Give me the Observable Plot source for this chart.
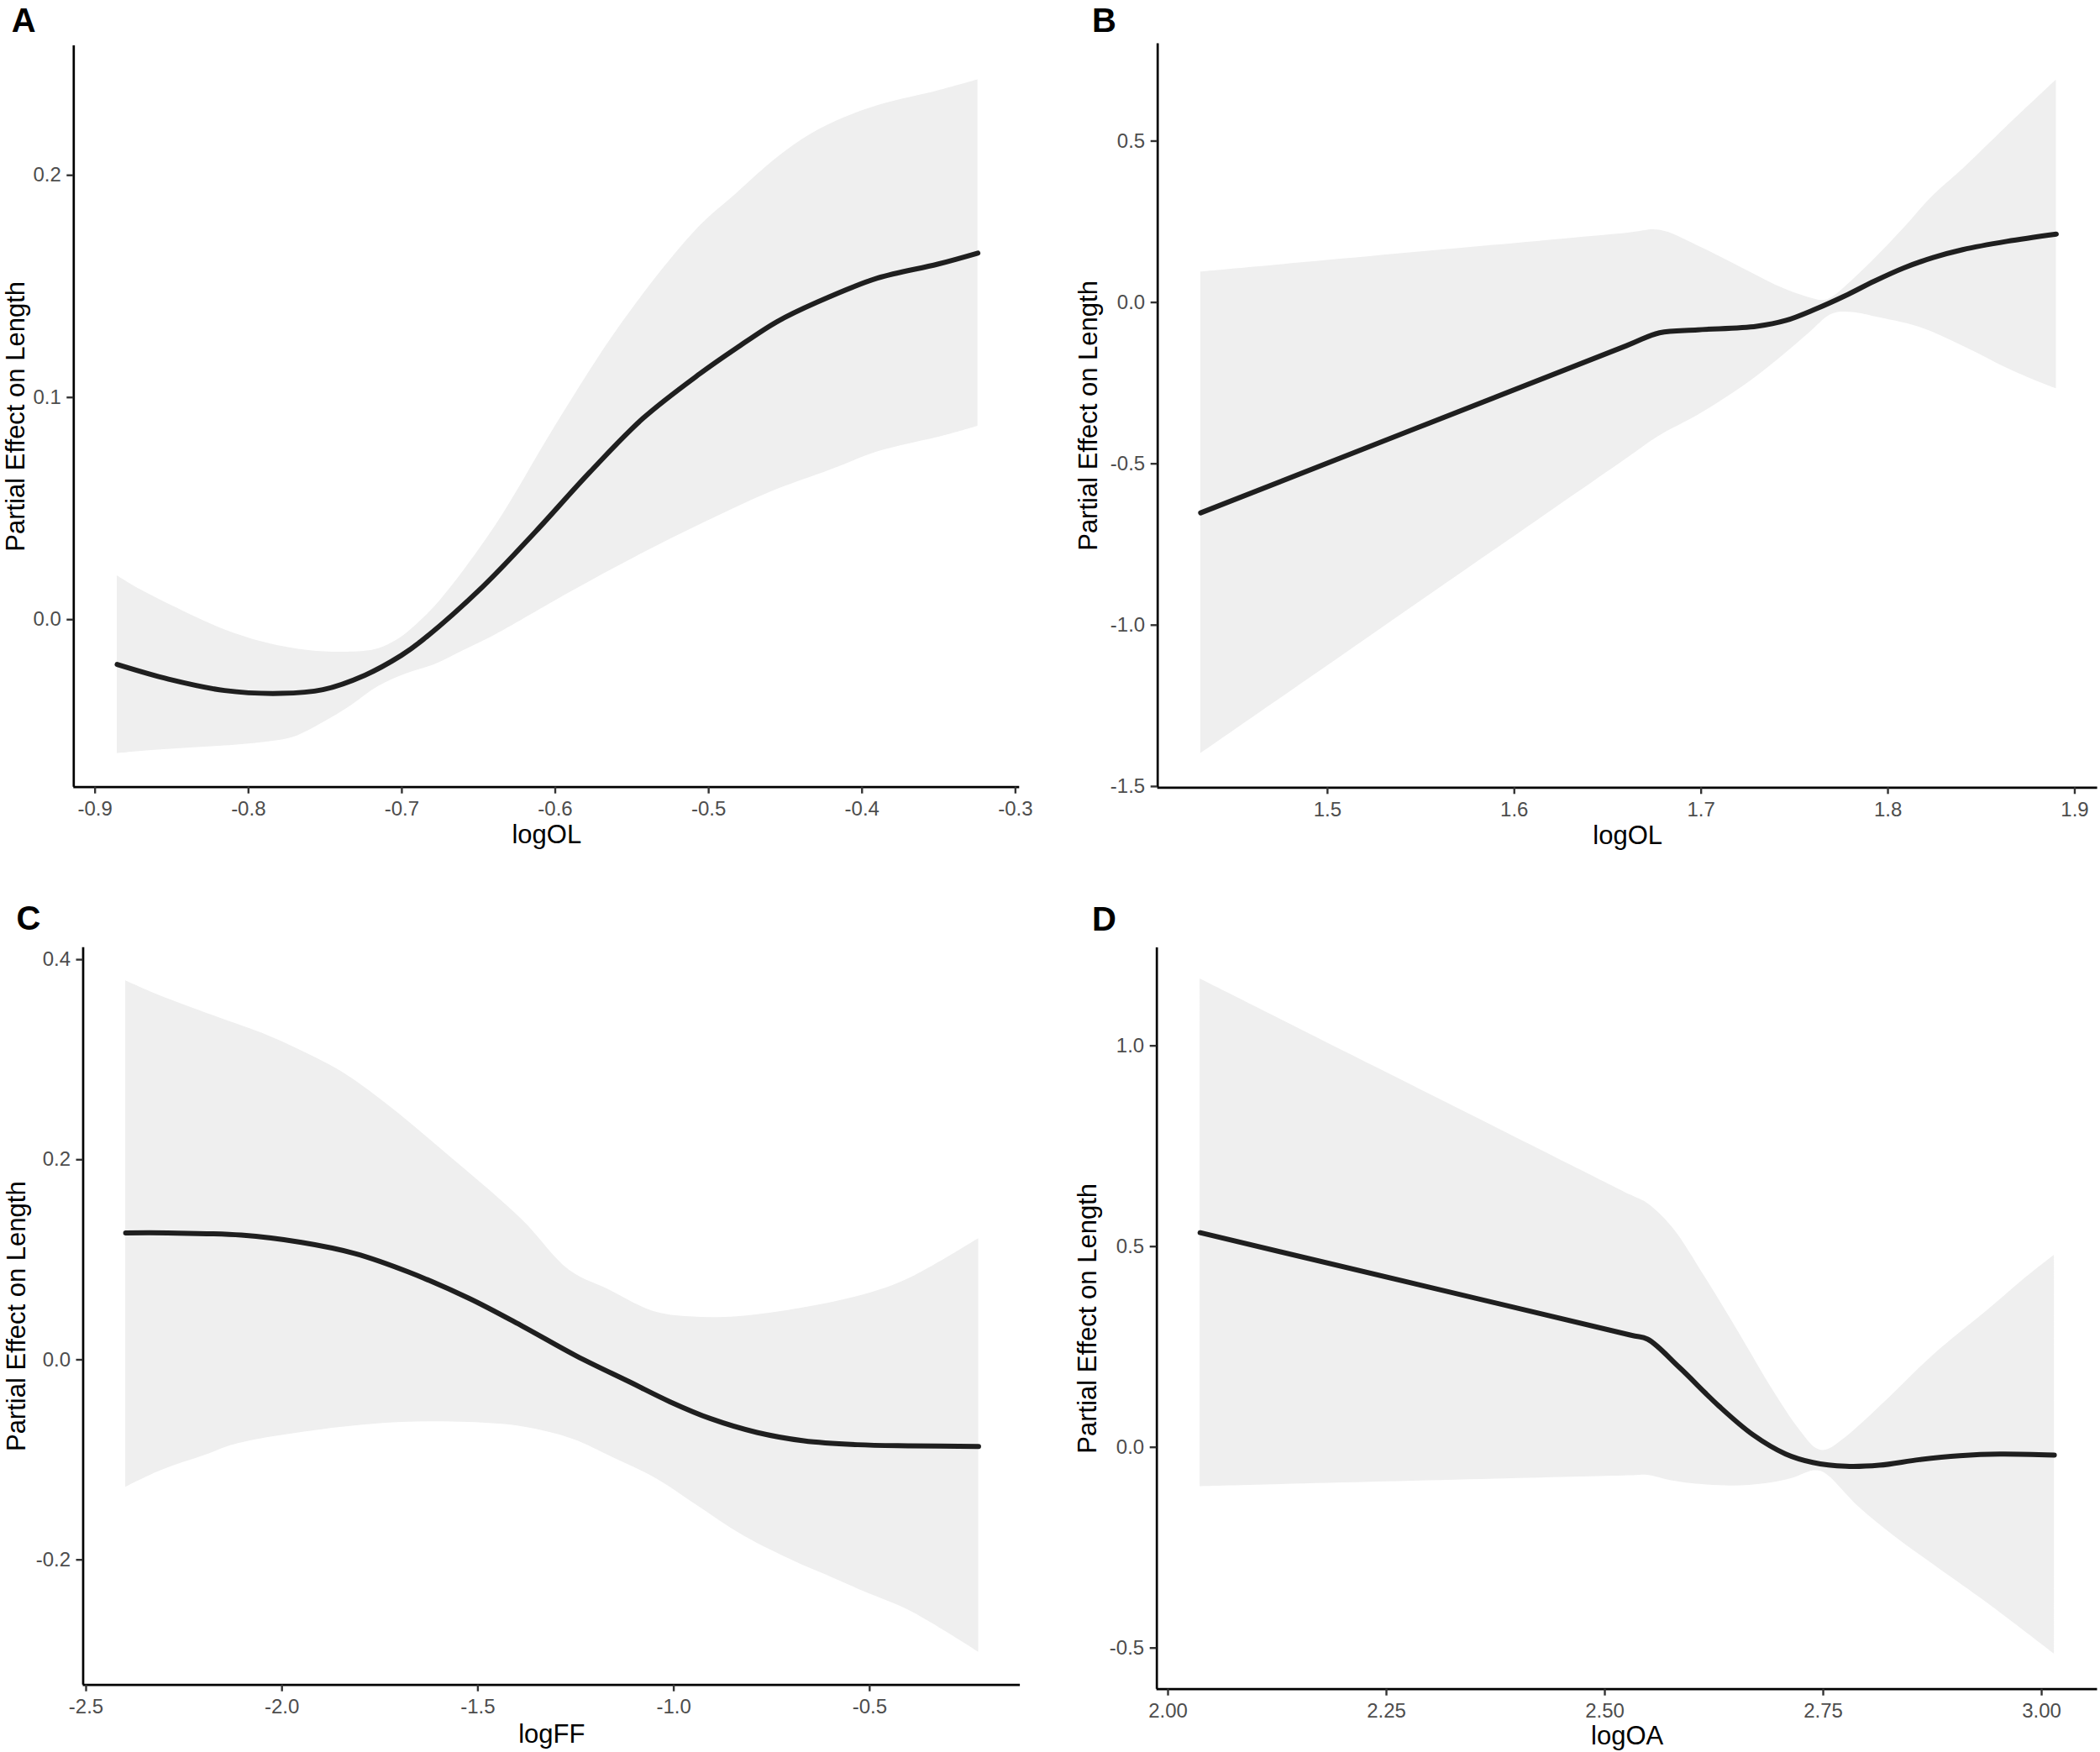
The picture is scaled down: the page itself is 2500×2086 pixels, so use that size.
<!DOCTYPE html>
<html>
<head>
<meta charset="utf-8">
<script src="https://cdn.jsdelivr.net/npm/d3@7"></script>
<script src="https://cdn.jsdelivr.net/npm/@observablehq/plot@0.6"></script>
<style>
  html, body { margin: 0; padding: 0; background: #ffffff; }
  #fig { position: relative; width: 2500px; height: 2086px; background: #ffffff; overflow: hidden; }
  #fig svg { position: absolute; }
</style>
</head>
<body>
<div id="fig"></div>
<script>
const FONT = '"Liberation Sans", Arial, Helvetica, sans-serif';
const yTitle = "Partial Effect on Length";

// ---------- Panel A : logOL ----------
const aTag = "A";
const aXTitle = "logOL";
const aXTicks = [-0.9, -0.8, -0.7, -0.6, -0.5, -0.4, -0.3];
const aXLabels = ["-0.9", "-0.8", "-0.7", "-0.6", "-0.5", "-0.4", "-0.3"];
const aYTicks = [0.0, 0.1, 0.2];
const aYLabels = ["0.0", "0.1", "0.2"];
const aFitX = [-0.8856, -0.8521, -0.8156, -0.7790, -0.7515, -0.7241, -0.7004, -0.6876, -0.6476, -0.6127, -0.5777, -0.5428, -0.5057, -0.4817, -0.4555, -0.4293, -0.3900, -0.3507, -0.3245];
const aFitY = [-0.0202, -0.0268, -0.0319, -0.0332, -0.0315, -0.0250, -0.0161, -0.0098, 0.0146, 0.0397, 0.0662, 0.0906, 0.1107, 0.1223, 0.1341, 0.1429, 0.1537, 0.1600, 0.1650];
const aUpX = [-0.8856, -0.8704, -0.8430, -0.8156, -0.7882, -0.7608, -0.7334, -0.7150, -0.7004, -0.6876, -0.6738, -0.6389, -0.5996, -0.5559, -0.5079, -0.4817, -0.4555, -0.4336, -0.4118, -0.3856, -0.3507, -0.3245];
const aUpY = [0.0198, 0.0135, 0.0040, -0.0045, -0.0105, -0.0139, -0.0146, -0.0130, -0.0079, -0.0004, 0.0096, 0.0423, 0.0875, 0.1341, 0.1756, 0.1919, 0.2078, 0.2184, 0.2259, 0.2322, 0.2380, 0.2430];
const aLoX = [-0.8856, -0.8650, -0.8400, -0.8092, -0.7850, -0.7698, -0.7515, -0.7333, -0.7150, -0.6967, -0.6782, -0.6600, -0.6389, -0.5908, -0.5472, -0.5035, -0.4598, -0.4205, -0.3900, -0.3700, -0.3507, -0.3245];
const aLoY = [-0.0603, -0.0590, -0.0578, -0.0565, -0.0548, -0.0527, -0.0464, -0.0388, -0.0300, -0.0243, -0.0201, -0.0140, -0.0068, 0.0121, 0.0284, 0.0435, 0.0574, 0.0674, 0.0755, 0.0790, 0.0820, 0.0870];

// ---------- Panel B : logOL ----------
const bTag = "B";
const bXTitle = "logOL";
const bXTicks = [1.5, 1.6, 1.7, 1.8, 1.9];
const bXLabels = ["1.5", "1.6", "1.7", "1.8", "1.9"];
const bYTicks = [-1.5, -1.0, -0.5, 0.0, 0.5];
const bYLabels = ["-1.5", "-1.0", "-0.5", "0.0", "0.5"];
const bFitX = [1.4321, 1.6600, 1.6777, 1.6982, 1.7297, 1.7455, 1.7612, 1.7770, 1.7927, 1.8085, 1.8242, 1.8400, 1.8636, 1.8901];
const bFitY = [-0.652, -0.1342, -0.094, -0.0849, -0.0739, -0.0557, -0.0208, 0.0203, 0.0659, 0.1070, 0.1390, 0.1635, 0.1892, 0.2118];
const bUpX = [1.4321, 1.6600, 1.6777, 1.6982, 1.7218, 1.7423, 1.7565, 1.7659, 1.7712, 1.7770, 1.7927, 1.8085, 1.8242, 1.8400, 1.8636, 1.8901];
const bUpY = [0.0942, 0.2145, 0.2238, 0.1754, 0.1070, 0.0476, 0.0174, 0.0065, 0.0200, 0.0476, 0.1343, 0.2301, 0.3306, 0.4128, 0.5450, 0.6895];
const bLoX = [1.4321, 1.6600, 1.6777, 1.6982, 1.7218, 1.7423, 1.7580, 1.7691, 1.7754, 1.7850, 1.7927, 1.8164, 1.8400, 1.8636, 1.8760, 1.8901];
const bLoY = [-1.3985, -0.4843, -0.4133, -0.3496, -0.2629, -0.1715, -0.0940, -0.0390, -0.0299, -0.0340, -0.0437, -0.0757, -0.1351, -0.2035, -0.2350, -0.2673];

// ---------- Panel C : logFF ----------
const cTag = "C";
const cXTitle = "logFF";
const cXTicks = [-2.5, -2.0, -1.5, -1.0, -0.5];
const cXLabels = ["-2.5", "-2.0", "-1.5", "-1.0", "-0.5"];
const cYTicks = [-0.2, 0.0, 0.2, 0.4];
const cYLabels = ["-0.2", "0.0", "0.2", "0.4"];
const cFitX = [-2.399, -2.292, -2.104, -1.950, -1.813, -1.677, -1.523, -1.386, -1.249, -1.112, -1.010, -0.907, -0.788, -0.668, -0.531, -0.395, -0.222];
const cFitY = [0.1268, 0.1268, 0.1246, 0.1173, 0.1061, 0.0877, 0.0615, 0.0335, 0.0039, -0.0223, -0.0419, -0.0587, -0.0726, -0.0810, -0.0849, -0.0860, -0.0866];
const cUpX = [-2.399, -2.317, -2.172, -2.035, -1.933, -1.847, -1.728, -1.557, -1.386, -1.266, -1.164, -1.053, -0.959, -0.839, -0.668, -0.497, -0.395, -0.222];
const cUpY = [0.3788, 0.3648, 0.3436, 0.3240, 0.3056, 0.2877, 0.2542, 0.1983, 0.1397, 0.0894, 0.0698, 0.0486, 0.0430, 0.0430, 0.0520, 0.0670, 0.0821, 0.1212];
const cLoX = [-2.399, -2.308, -2.200, -2.112, -1.898, -1.693, -1.523, -1.386, -1.258, -1.155, -1.044, -0.942, -0.822, -0.685, -0.600, -0.514, -0.395, -0.222];
const cLoY = [-0.1274, -0.1106, -0.0960, -0.0838, -0.0698, -0.0626, -0.0626, -0.0670, -0.0793, -0.0978, -0.1190, -0.1453, -0.1760, -0.2028, -0.2170, -0.2318, -0.2514, -0.2922];

// ---------- Panel D : logOA ----------
const dTag = "D";
const dXTitle = "logOA";
const dXTicks = [2.00, 2.25, 2.50, 2.75, 3.00];
const dXLabels = ["2.00", "2.25", "2.50", "2.75", "3.00"];
const dYTicks = [-0.5, 0.0, 0.5, 1.0];
const dYLabels = ["-0.5", "0.0", "0.5", "1.0"];
const dFitX = [2.0367, 2.530, 2.549, 2.585, 2.631, 2.669, 2.707, 2.738, 2.776, 2.814, 2.860, 2.906, 2.952, 3.0145];
const dFitY = [0.5345, 0.2792, 0.2693, 0.1996, 0.1019, 0.0321, -0.0167, -0.0377, -0.0474, -0.0447, -0.0307, -0.0209, -0.0167, -0.0195];
const dUpX = [2.0367, 2.530, 2.549, 2.577, 2.615, 2.654, 2.692, 2.722, 2.742, 2.753, 2.776, 2.822, 2.875, 2.937, 2.982, 3.0145];
const dUpY = [1.1666, 0.6278, 0.6070, 0.5484, 0.4228, 0.2833, 0.1437, 0.0460, -0.0028, -0.0070, 0.0251, 0.1158, 0.2275, 0.3391, 0.4228, 0.4786];
const dLoX = [2.0367, 2.530, 2.549, 2.575, 2.600, 2.646, 2.684, 2.715, 2.738, 2.748, 2.757, 2.791, 2.830, 2.883, 2.937, 3.0145];
const dLoY = [-0.0977, -0.0708, -0.0698, -0.0830, -0.0907, -0.0963, -0.0907, -0.0768, -0.0586, -0.0600, -0.0726, -0.1493, -0.2191, -0.3028, -0.3866, -0.5149];

// ---------- layout / scale settings ----------
const panels = [
  { tag: aTag, xTitle: aXTitle, xTicks: aXTicks, xLabels: aXLabels, yTicks: aYTicks, yLabels: aYLabels,
    fitX: aFitX, fitY: aFitY, upX: aUpX, upY: aUpY, loX: aLoX, loY: aLoY,
    pos: [0, 0], m: { top: 54, right: 36.7, bottom: 106.3, left: 87.3 },
    xDomain: [-0.9139, -0.2973], yDomain: [-0.0754, 0.2583],
    yTitleDx: -58.8, xTitleDy: 66.3, tagX: 13.3, tagBase: 37 },
  { tag: bTag, xTitle: bXTitle, xTicks: bXTicks, xLabels: bXLabels, yTicks: bYTicks, yLabels: bYLabels,
    fitX: bFitX, fitY: bFitY, upX: bUpX, upY: bUpY, loX: bLoX, loY: bLoY,
    pos: [1250, 0], m: { top: 51.6, right: 3.4, bottom: 105.7, left: 127.7 },
    xDomain: [1.4091, 1.9122], yDomain: [-1.5036, 0.8016],
    yTitleDx: -72.7, xTitleDy: 66.7, tagX: 49.4, tagBase: 37 },
  { tag: cTag, xTitle: cXTitle, xTicks: cXTicks, xLabels: cXLabels, yTicks: cYTicks, yLabels: cYLabels,
    fitX: cFitX, fitY: cFitY, upX: cUpX, upY: cUpY, loX: cLoX, loY: cLoY,
    pos: [0, 1043], m: { top: 84.7, right: 35.9, bottom: 80.3, left: 98.5 },
    xDomain: [-2.5075, -0.1156], yDomain: [-0.3251, 0.4121],
    yTitleDx: -68.7, xTitleDy: 68.4, tagX: 19, tagBase: 63.7 },
  { tag: dTag, xTitle: dXTitle, xTicks: dXTicks, xLabels: dXLabels, yTicks: dYTicks, yLabels: dYLabels,
    fitX: dFitX, fitY: dFitY, upX: dUpX, upY: dUpY, loX: dLoX, loY: dLoY,
    pos: [1250, 1043], m: { top: 85, right: 3.5, bottom: 75.3, left: 126.7 },
    xDomain: [1.9872, 3.0639], yDomain: [-0.6025, 1.2441],
    yTitleDx: -72.4, xTitleDy: 65.3, tagX: 49.4, tagBase: 64.5 }
];

function makePanel(c) {
  const fit = c.fitX.map((x, i) => ({ x, y: c.fitY[i] }));
  const band = c.upX.map((x, i) => ({ ux: x, uy: c.upY[i], lx: c.loX[i], ly: c.loY[i] }));
  const fmt = (ticks, labels) => (v) => labels[ticks.indexOf(v)];
  const svg = Plot.plot({
    width: 1250,
    height: 1043,
    marginTop: c.m.top,
    marginRight: c.m.right,
    marginBottom: c.m.bottom,
    marginLeft: c.m.left,
    x: { domain: c.xDomain },
    y: { domain: c.yDomain },
    style: { fontFamily: FONT, background: "#ffffff", overflow: "visible" },
    marks: [
      Plot.area(band, { x1: "ux", y1: "uy", x2: "lx", y2: "ly", fill: "#efefef", curve: "catmull-rom" }),
      Plot.line(fit, { x: "x", y: "y", stroke: "#1f1f1f", strokeWidth: 6, curve: "catmull-rom" }),
      Plot.ruleX([c.xDomain[0]], { stroke: "#000000", strokeWidth: 2.7 }),
      Plot.ruleY([c.yDomain[0]], { stroke: "#000000", strokeWidth: 2.7 }),
      Plot.axisX(c.xTicks, {
        tickSize: 8, tickPadding: 9, tickFormat: fmt(c.xTicks, c.xLabels),
        fontSize: 24, fill: "#4d4d4d", stroke: "#333333", strokeWidth: 2.4, label: null
      }),
      Plot.axisY(c.yTicks, {
        tickSize: 8, tickPadding: 7, tickFormat: fmt(c.yTicks, c.yLabels),
        fontSize: 24, fill: "#4d4d4d", stroke: "#333333", strokeWidth: 2.4, label: null
      }),
      Plot.text([c.xTitle], {
        frameAnchor: "bottom", dy: c.xTitleDy, lineAnchor: "bottom", textAnchor: "middle",
        fontSize: 31, fill: "#000000"
      }),
      Plot.text([yTitle], {
        frameAnchor: "left", dx: c.yTitleDx, rotate: -90, lineAnchor: "bottom", textAnchor: "middle",
        fontSize: 31, fill: "#000000"
      }),
      Plot.text([c.tag], {
        frameAnchor: "top-left", dx: c.tagX - c.m.left, dy: c.tagBase - c.m.top,
        textAnchor: "start", lineAnchor: "bottom",
        fontWeight: "bold", fontSize: 40, fill: "#000000"
      })
    ]
  });
  svg.style.left = c.pos[0] + "px";
  svg.style.top = c.pos[1] + "px";
  return svg;
}

const fig = document.getElementById("fig");
for (const c of panels) fig.appendChild(makePanel(c));
</script>
</body>
</html>
